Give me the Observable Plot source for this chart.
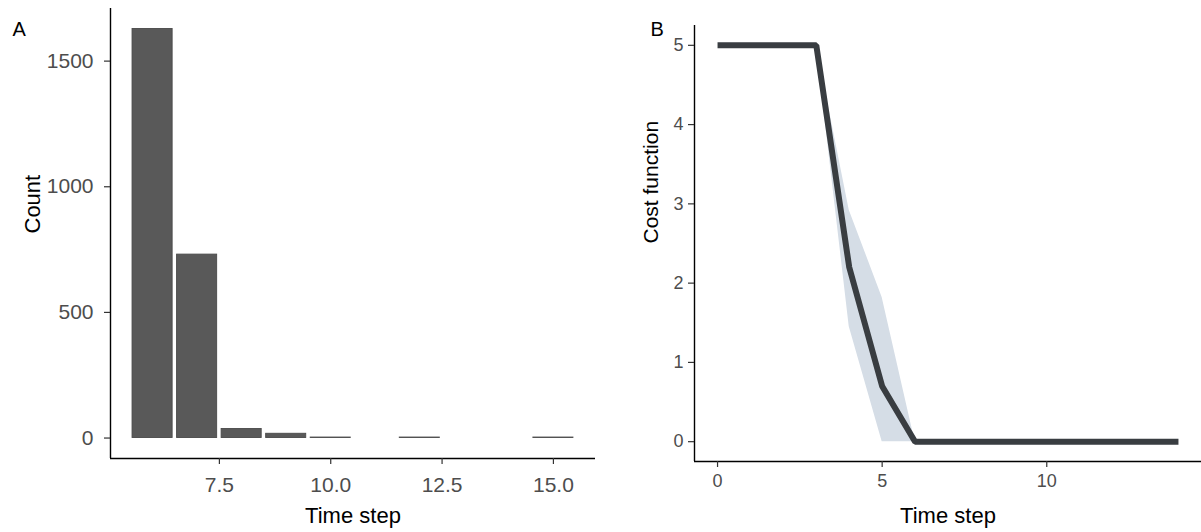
<!DOCTYPE html>
<html>
<head>
<meta charset="utf-8">
<script src="https://cdn.jsdelivr.net/npm/d3@7"></script>
<script src="https://cdn.jsdelivr.net/npm/@observablehq/plot@0.6"></script>
<style>
  html, body { margin: 0; padding: 0; background: #fff; }
  #wrap { position: relative; width: 1201px; height: 532px; overflow: hidden; font-family: "Liberation Sans", Arial, sans-serif; }
  #a { position: absolute; left: 0; top: 0; }
  #b { position: absolute; left: 600px; top: 0; }
</style>
</head>
<body>
<div id="wrap"><div id="a"></div><div id="b"></div></div>
<script>
// Panel A: histogram of time steps
const stepsA = [6, 7, 8, 9, 10, 12, 15];
const countsA = [1628, 730, 36, 17, 2, 2, 2];
const yTicksA = [0, 500, 1000, 1500];
const xTicksA = [7.5, 10, 12.5, 15];

// Panel B: cost function over time with ribbon
const timeB = [0, 1, 2, 3, 4, 5, 6, 7, 8, 9, 10, 11, 12, 13, 14];
const costB = [5, 5, 5, 5, 2.2, 0.7, 0, 0, 0, 0, 0, 0, 0, 0, 0];
const lowerB = [5, 5, 5, 5, 1.45, 0, 0, 0, 0, 0, 0, 0, 0, 0, 0];
const upperB = [5, 5, 5, 5, 2.92, 1.82, 0, 0, 0, 0, 0, 0, 0, 0, 0];
const yTicksB = [0, 1, 2, 3, 4, 5];
const xTicksB = [0, 5, 10];

const font = "'Liberation Sans', Arial, sans-serif";
const barW = 0.9;
const dataA = stepsA.map((t, i) => ({t, n: countsA[i]}));
const dataB = timeB.map((t, i) => ({t, y: costB[i], lo: lowerB[i], hi: upperB[i]}));

function expand(lo, hi) { const d = (hi - lo) * 0.05; return [lo - d, hi + d]; }

const xDomA = expand(d3.min(stepsA) - barW / 2, d3.max(stepsA) + barW / 2);
const yDomA = expand(0, d3.max(countsA));

const plotA = Plot.plot({
  width: 600, height: 532,
  marginLeft: 110, marginRight: 5, marginTop: 8, marginBottom: 74,
  style: {fontFamily: font, background: "transparent", overflow: "visible"},
  x: {domain: xDomA},
  y: {domain: yDomA},
  marks: [
    Plot.rectY(dataA, {x1: d => d.t - barW / 2, x2: d => d.t + barW / 2, y1: 0, y2: "n", fill: "#595959", stroke: "#4a4a4a", strokeWidth: 0.9}),
    Plot.ruleX([xDomA[0]], {stroke: "#000", strokeWidth: 1.4}),
    Plot.ruleY([yDomA[0]], {stroke: "#000", strokeWidth: 1.4}),
    Plot.axisY({ticks: yTicksA, tickFormat: d3.format("d"), tickSize: 6, tickPadding: 11, fontSize: 21, fill: "#4d4d4d", stroke: "#333", strokeWidth: 1.2, label: null}),
    Plot.axisX({ticks: xTicksA, tickFormat: d3.format(".1f"), tickSize: 6, tickPadding: 13, fontSize: 21, fill: "#4d4d4d", stroke: "#333", strokeWidth: 1.2, label: null}),
    Plot.text(["Time step"], {frameAnchor: "bottom", dy: 57, lineAnchor: "middle", fontSize: 22, fill: "#000"}),
    Plot.text(["Count"], {frameAnchor: "left", dx: -78, rotate: -90, lineAnchor: "middle", fontSize: 22, fill: "#000"}),
    Plot.text(["A"], {frameAnchor: "top-left", dx: -98, dy: 21, textAnchor: "start", lineAnchor: "middle", fontSize: 20, fill: "#000"})
  ]
});
document.getElementById("a").appendChild(plotA);

const xDomB = expand(d3.min(timeB), d3.max(timeB));
const yDomB = expand(0, d3.max(upperB));

const plotB = Plot.plot({
  width: 601, height: 532,
  marginLeft: 94, marginRight: 0, marginTop: 25, marginBottom: 71,
  style: {fontFamily: font, background: "transparent", overflow: "visible"},
  x: {domain: xDomB},
  y: {domain: yDomB},
  marks: [
    Plot.areaY(dataB, {x: "t", y1: "lo", y2: "hi", fill: "#d5dde6"}),
    Plot.line(dataB, {x: "t", y: "y", stroke: "#393d41", strokeWidth: 6, strokeLinecap: "butt", strokeLinejoin: "miter"}),
    Plot.ruleX([xDomB[0]], {stroke: "#000", strokeWidth: 1.4}),
    Plot.ruleY([yDomB[0]], {stroke: "#000", strokeWidth: 1.4}),
    Plot.axisY({ticks: yTicksB, tickFormat: d3.format("d"), tickSize: 6, tickPadding: 5, fontSize: 18, fill: "#4d4d4d", stroke: "#333", strokeWidth: 1.2, label: null}),
    Plot.axisX({ticks: xTicksB, tickFormat: d3.format("d"), tickSize: 6, tickPadding: 7, fontSize: 18, fill: "#4d4d4d", stroke: "#333", strokeWidth: 1.2, label: null}),
    Plot.text(["Time step"], {frameAnchor: "bottom", dy: 54, lineAnchor: "middle", fontSize: 22, fill: "#000"}),
    Plot.text(["Cost function"], {frameAnchor: "left", dx: -43, rotate: -90, lineAnchor: "middle", fontSize: 21, fill: "#000"}),
    Plot.text(["B"], {frameAnchor: "top-left", dx: -44, dy: 4, textAnchor: "start", lineAnchor: "middle", fontSize: 20, fill: "#000"})
  ]
});
document.getElementById("b").appendChild(plotB);
</script>
</body>
</html>
